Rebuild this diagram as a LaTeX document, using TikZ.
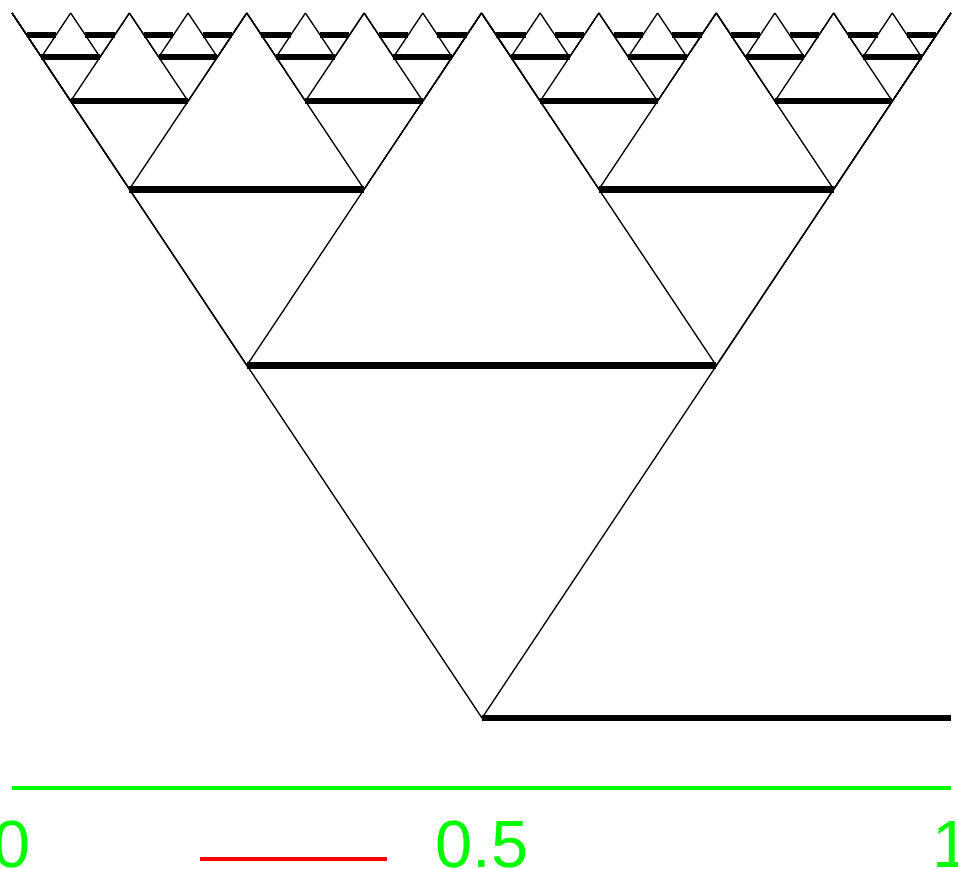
\documentclass[tikz,border=0pt]{standalone}
\usepackage{fontspec}
\setmainfont{Liberation Sans}
\definecolor{axisgreen}{RGB}{0,255,0}
\definecolor{barred}{RGB}{255,0,0}

\begin{document}
\begin{tikzpicture}[x=0.02cm, y=-0.02cm]

  \tikzset{
    armline/.style={line width=0.75pt, black},
    levelbar/.style={line width=3.8pt, black, line cap=butt},
    axisline/.style={line width=2.3pt, axisgreen},
    axislabel/.style={text=axisgreen, font=\fontsize{38}{40}\selectfont,
      anchor=base, inner sep=0pt}
  }

  \useasboundingbox (0,0) rectangle (958,869);

  % level 0: big V and the bar on the right half
  \draw[armline] (12,13) -- (482,718) -- (951,13);
  \draw[levelbar] (482,718) -- (951,718);

  % levels 1..5 (the last level only has bars)
  \foreach \k in {1,...,5}{
    \pgfmathsetmacro{\yk}{13+705/2^\k}
    \pgfmathsetmacro{\h}{939/2^(\k+1)}
    \pgfmathtruncatemacro{\nv}{2^\k}
    \pgfmathtruncatemacro{\nb}{2^(\k-1)}
    \ifnum\k<5
      \foreach \m in {1,...,\nv}{
        \pgfmathsetmacro{\c}{12+(2*\m-1)*\h}
        \draw[armline] (\c-\h,13) -- (\c,\yk) -- (\c+\h,13);
      }
    \fi
    \foreach \j in {1,...,\nb}{
      \draw[levelbar] ({12+(4*\j-3)*\h},\yk) -- ({12+(4*\j-1)*\h},\yk);
    }
  }

  % unit axis and scale bar
  \draw[axisline] (12,788) -- (951,788);
  \draw[line width=2.3pt, barred] (200,859) -- (387,859);

  \node[axislabel] (lab0) at (12,867) {0};
  \node[axislabel] (labhalf) at (482,867) {0.5};
  \node[axislabel] (labone) at (951,867) {1};

\end{tikzpicture}
\end{document}
